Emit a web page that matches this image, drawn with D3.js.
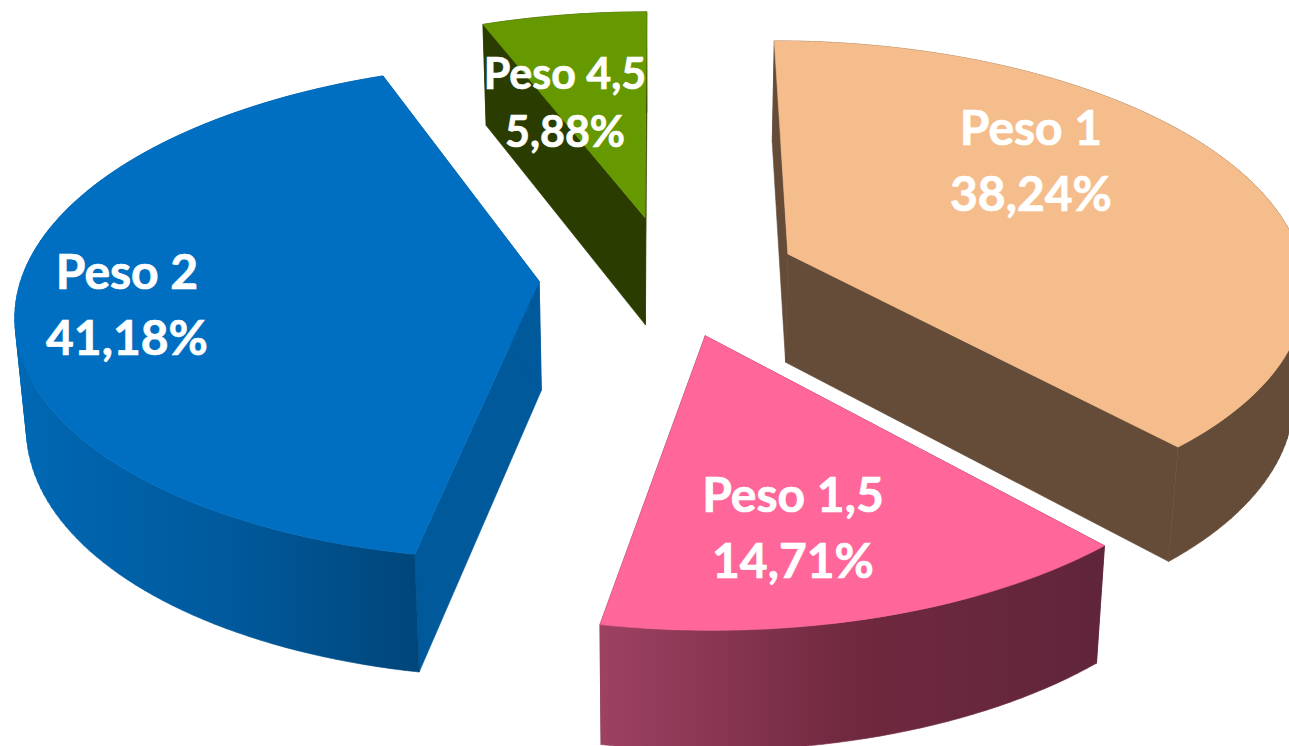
<!DOCTYPE html>
<html>
<head>
<meta charset="utf-8">
<script src="https://cdn.jsdelivr.net/npm/d3@7/dist/d3.min.js"></script>
<style>
html,body{margin:0;padding:0;background:#fff;overflow:hidden}
svg{display:block}
text{font-family:Lato,"Open Sans",sans-serif;font-weight:700;fill:#fff;stroke:#fff;stroke-width:0.7;text-anchor:middle}
</style>
</head>
<body>
<svg id="c" width="1289" height="746"></svg>
<script>
const categories = ["Peso 1", "Peso 1,5", "Peso 2", "Peso 4,5"];
const values = [38.24, 14.71, 41.18, 5.88];
const percentLabels = ["38,24%", "14,71%", "41,18%", "5,88%"];
const topColors = ["#F6BD8C", "#FF6699", "#006FC1", "#669900"];
const wallColors = ["#654C39", "#62263C", "#00599B", "#2B3C00"];
const arcStops = [
  [["0", "#654C39"], ["1", "#654C39"]],
  [["0", "#9E4163"], ["0.5", "#70293F"], ["1", "#60253B"]],
  [["0", "#0068B4"], ["0.55", "#00599B"], ["1", "#00467B"]],
  [["0", "#2B3C00"], ["1", "#2B3C00"]]
];
const labelCenters = [[1031, 128], [793, 495], [127, 272], [565, 74]];
const labelSizes = [48, 48, 48, 43];
const labelLeading = [66, 66, 66, 58];

// Perspective of the pie's ground plane
const RX = 531, RZ = 534, EXPLODE = 133, CX = 8.7, CZ = 116;
const VX = 660, HORIZON = -1755, PLANE = 2085, D = 4336;
const BOTTOM_SHRINK = 0.982;

const pie = d3.pie().sort(null).value(d => d);
const arcs = pie(values);

function project(X, Z) {
  const s = D / (D + Z);
  return [VX + X * s, HORIZON + PLANE * s];
}
function drop(p) {
  return [VX + (p[0] - VX) * BOTTOM_SHRINK, p[1] + 101 + (p[1] - 24) * 0.0316];
}
function wound(q) {
  return d3.polygonArea(q) < 0 ? q.slice().reverse() : q;
}

const svg = d3.select("#c");
const defs = svg.append("defs");
const line = d3.line();

arcs.forEach((a, i) => {
  const mid = (a.startAngle + a.endAngle) / 2;
  const ax = CX + EXPLODE * Math.sin(mid);
  const az = CZ + EXPLODE * Math.cos(mid);
  const apex = project(ax, az);
  const n = Math.max(8, Math.round((a.endAngle - a.startAngle) * 40));
  const rim = d3.range(n + 1).map(k => {
    const t = a.startAngle + (a.endAngle - a.startAngle) * k / n;
    return project(ax + RX * Math.sin(t), az + RZ * Math.cos(t));
  });
  const first = rim[0], last = rim[n];
  const g = svg.append("g").attr("class", "slice");

  const ext = d3.extent(rim, p => p[0]);
  const grad = defs.append("linearGradient").attr("id", "arc" + i)
    .attr("gradientUnits", "userSpaceOnUse")
    .attr("x1", ext[0]).attr("x2", ext[1]).attr("y1", 0).attr("y2", 0);
  grad.selectAll("stop").data(arcStops[i]).join("stop")
    .attr("offset", d => d[0]).attr("stop-color", d => d[1]);

  // radial walls
  [first, last].forEach(p => {
    g.append("path")
      .attr("d", line([apex, p, drop(p), drop(apex)]) + "Z")
      .attr("fill", wallColors[i])
      .attr("stroke", wallColors[i]).attr("stroke-width", 0.6);
  });
  // outer wall: one path of rim-segment quads, wound alike, so the silhouette stays closed without seams
  g.append("path")
    .attr("d", d3.pairs(rim)
      .map(d => line(wound([d[0], d[1], drop(d[1]), drop(d[0])])) + "Z").join(""))
    .attr("fill", "url(#arc" + i + ")")
    .attr("fill-rule", "nonzero")
    .attr("stroke", "url(#arc" + i + ")").attr("stroke-width", 0.6);
  // top surface
  g.append("path")
    .attr("d", line([apex].concat(rim)) + "Z")
    .attr("fill", topColors[i])
    .attr("stroke", topColors[i]).attr("stroke-width", 0.6);
});

categories.forEach((c, i) => {
  const t = svg.append("text")
    .attr("font-size", labelSizes[i]);
  t.append("tspan").attr("x", labelCenters[i][0]).attr("y", labelCenters[i][1] + labelSizes[i] * 0.36).text(c);
  t.append("tspan").attr("x", labelCenters[i][0]).attr("y", labelCenters[i][1] + labelLeading[i] + labelSizes[i] * 0.36).text(percentLabels[i]);
});
</script>
</body>
</html>
